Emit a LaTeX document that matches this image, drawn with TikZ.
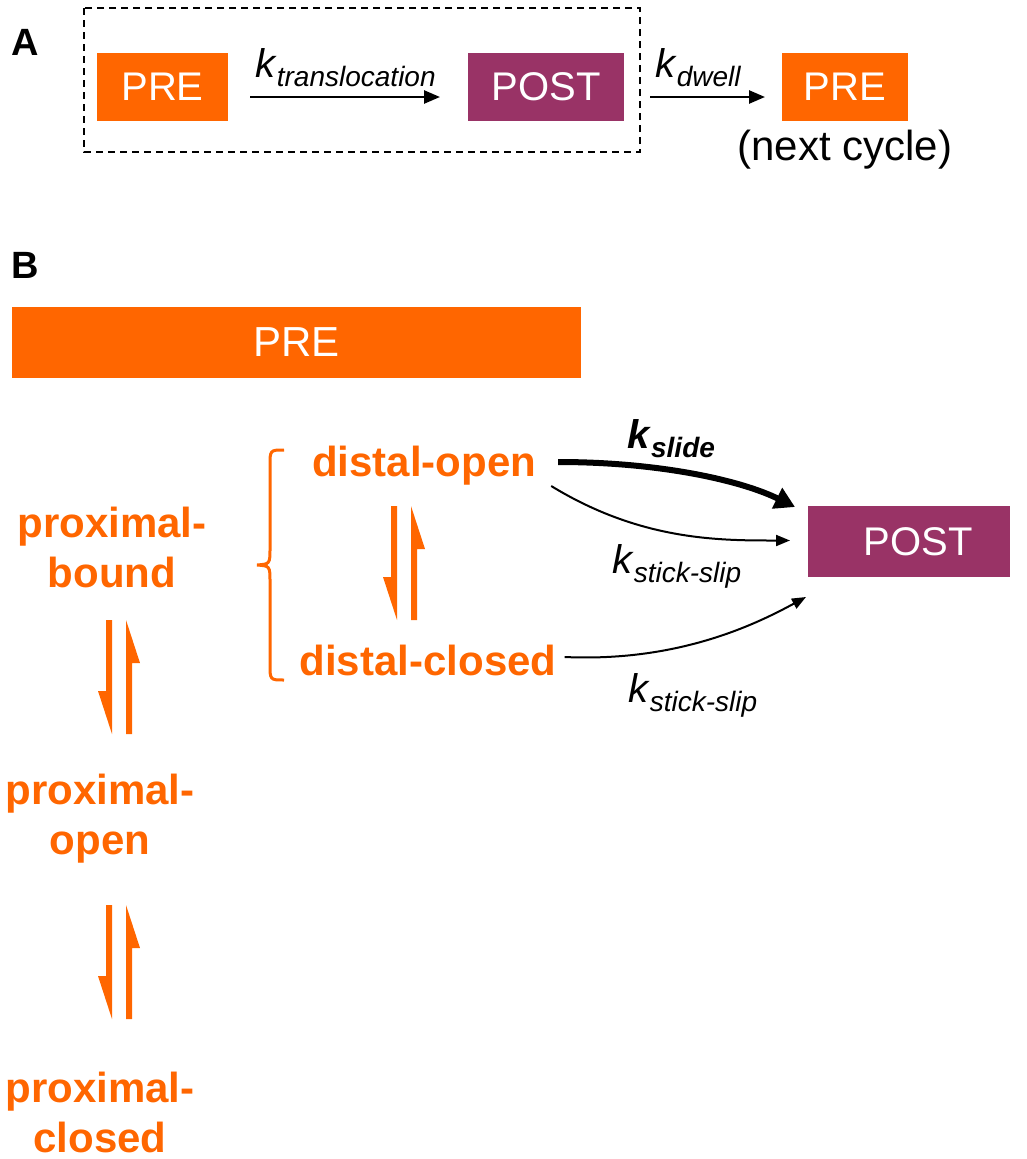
\documentclass[tikz,border=0pt]{standalone}
\usepackage{fontspec}
\setmainfont{Liberation Sans}
\usetikzlibrary{positioning,arrows.meta}

\definecolor{preorange}{HTML}{FF6600}
\definecolor{postpurple}{HTML}{993366}

\newcommand\krate[1]{\textit{k}\raisebox{-9pt}{\fontsize{28}{28}\selectfont\itshape #1}}

\tikzset{
  statebox/.style={inner sep=0pt, outer sep=0pt, minimum height=68pt, text=white,
    font=\fontsize{40}{40}\selectfont},
  prebox/.style={statebox, fill=preorange},
  postbox/.style={statebox, fill=postpurple},
  conf/.style={text=preorange, align=center, inner sep=0pt,
    font=\fontsize{42}{50}\selectfont\bfseries},
  ratelabel/.style={anchor=base west, inner sep=0pt, font=\fontsize{40}{40}\selectfont},
  panel/.style={inner sep=0pt, font=\fontsize{38}{38}\selectfont\bfseries},
  equilib/.pic={
    \fill[preorange] (-13,-57) -- (-7,-57) -- (-7,57) -- (-21,14) -- (-13,14) -- cycle;
    \fill[preorange] (7,57) -- (13,57) -- (13,-14) -- (21,-14) -- (7,-57) -- cycle;
  }
}

\begin{document}
\begin{tikzpicture}[x=1pt,y=-1pt]
  \useasboundingbox (0,0) rectangle (1026,1159);

  % panel A
  \node (labelA) at (25,42) [panel] {A};
  \draw[line width=2pt, dash pattern=on 7pt off 5pt] (84,8) rectangle (640,152);
  \node (preA)  at (162.5,87) [prebox, minimum width=131pt] {PRE};
  \node (postA) at (546,87)   [postbox, minimum width=156pt] {POST};
  \node (nextA) at (845,87)   [prebox, minimum width=126pt] {PRE};
  \node (nextcycle) [below=9pt of nextA, inner sep=0pt, font=\fontsize{42}{42}\selectfont] {(next cycle)};
  \draw[line width=2.5pt, -{Triangle[length=16pt,width=13pt]}]
    ([shift={(22,10)}]preA.east) -- ([shift={(-28,10)}]postA.west);
  \draw[line width=2.5pt, -{Triangle[length=16pt,width=13pt]}]
    ([shift={(26,10)}]postA.east) -- ([shift={(-17,10)}]nextA.west);
  \node (ktrans) at (255,77) [ratelabel] {\krate{translocation}};
  \node (kdwell) at (655,77) [ratelabel] {\krate{dwell}};

  % panel B
  \node (labelB) at (25,265) [panel] {B};
  \node (preB) at (296.5,342.5) [prebox, minimum width=569pt, minimum height=71pt,
    font=\fontsize{42}{42}\selectfont] {PRE};
  \node (postB) at (909,541.5) [postbox, minimum width=202pt, minimum height=71pt] {\hspace{18pt}POST};

  \node (pbound)  at (112,547) [conf] {proximal-\\bound};
  \node (popen)   at (100,819) [conf] {proximal-\\open};
  \node (pclosed) at (100,1112) [conf] {proximal-\\closed};
  \node (dopen)   at (424,466) [conf] {distal-open};
  \node (dclosed) at (428,660) [conf] {distal-closed};

  \pic at (404,563) {equilib};
  \pic at (119,677) {equilib};
  \pic at (119,962) {equilib};

  % brace round the distal states
  \draw[preorange, line width=3pt] (284,450) .. controls (270,450) .. (270,466) -- (270,548)
    .. controls (270,564) .. (257,565) .. controls (270,566) .. (270,582) -- (270,664)
    .. controls (270,680) .. (284,680);

  % routes to POST
  \draw[line width=6pt, -{Triangle[length=20pt,width=22pt]}]
    ([shift={(22,-4)}]dopen.east) .. controls +(100,0) and +(-55,-27) .. ([shift={(-13,1)}]postB.north west);
  \draw[line width=2pt, -{Triangle[length=14pt,width=11pt]}]
    ([shift={(15,20)}]dopen.east) .. controls +(90,55) and +(-70,0) .. ([shift={(-18,-1)}]postB.west);
  \draw[line width=2pt, -{Triangle[length=14pt,width=11pt]}]
    ([shift={(8,-3)}]dclosed.east) .. controls +(110,5) and +(-55,30) .. ([shift={(-2,20)}]postB.south west);
  \node (kslide) at (627,448) [ratelabel, font=\fontsize{40}{40}\selectfont\bfseries] {\krate{slide}};
  \node (kstick1) at (612,573) [ratelabel] {\krate{stick-slip}};
  \node (kstick2) at (628,702) [ratelabel] {\krate{stick-slip}};
\end{tikzpicture}
\end{document}
